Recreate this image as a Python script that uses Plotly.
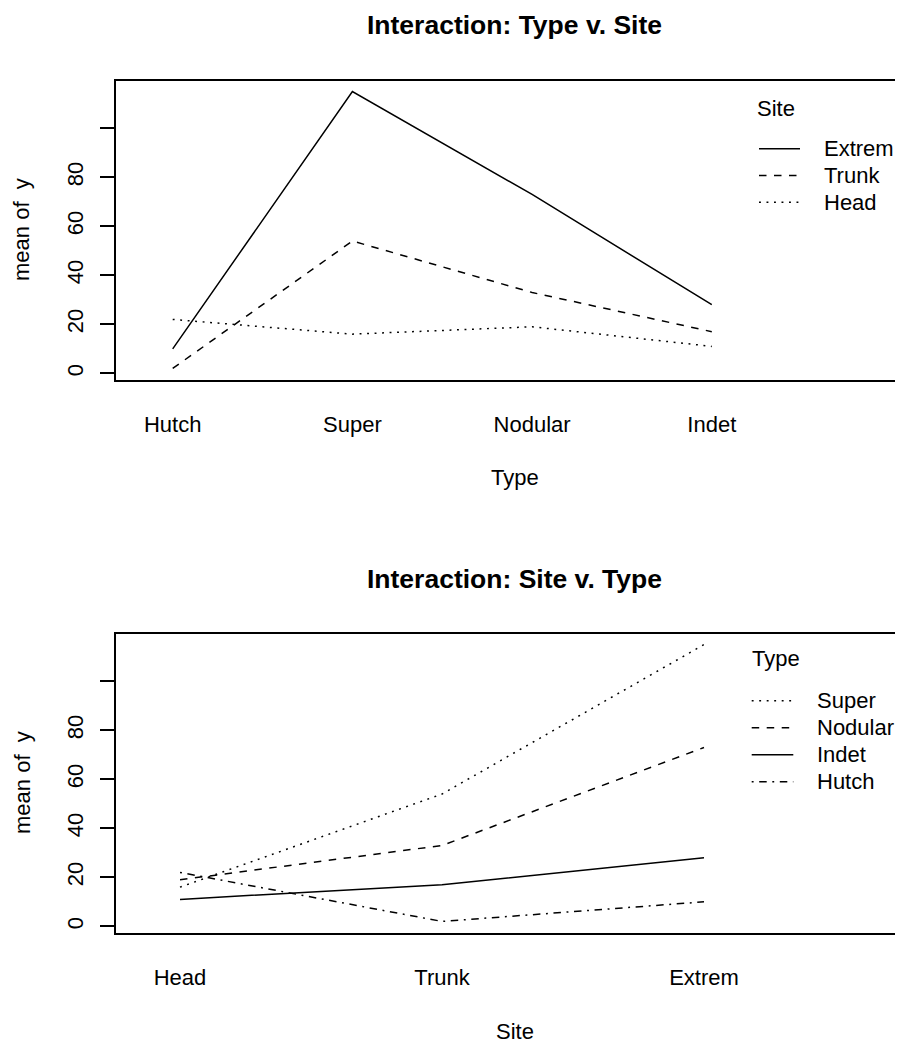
import plotly.graph_objects as go

# ---- data (melanoma counts; mean of y per cell) ----
types = ["Hutch", "Super", "Nodular", "Indet"]
sites = ["Head", "Trunk", "Extrem"]

# Top panel: x = Type, traces = Site
extrem_by_type = [10, 115, 73, 28]
trunk_by_type = [2, 54, 33, 17]
head_by_type = [22, 16, 19, 11]

# Bottom panel: x = Site, traces = Type
super_by_site = [16, 54, 115]
nodular_by_site = [19, 33, 73]
indet_by_site = [11, 17, 28]
hutch_by_site = [22, 2, 10]

y_ticks = [0, 20, 40, 60, 80, 100]
y_tick_text = ["0", "20", "40", "60", "80", ""]

# ---- styling ----
OFF = 8  # default page body margin
W, H = 903 - OFF, 1041 - OFF
FONT = "Liberation Sans, Arial, Helvetica, sans-serif"
FS = 22
LW = 1.5
SOLID = "solid"
DASH = "7.5px,7.5px"
DOT = "1.9px,5.6px"
DOTDASH = "1.9px,5.6px,7.5px,5.6px"


def px(x):
    return (x - OFF) / W


def py(y):
    return 1 - (y - OFF) / H


fig = go.Figure()

top_series = [("Extrem", extrem_by_type, SOLID), ("Trunk", trunk_by_type, DASH), ("Head", head_by_type, DOT)]
bot_series = [("Super", super_by_site, DOT), ("Nodular", nodular_by_site, DASH),
              ("Indet", indet_by_site, SOLID), ("Hutch", hutch_by_site, DOTDASH)]

for name, vals, d in top_series:
    fig.add_trace(go.Scatter(x=types, y=vals, mode="lines", name=name,
                             line=dict(color="black", width=LW, dash=d),
                             xaxis="x", yaxis="y", showlegend=False))
for name, vals, d in bot_series:
    fig.add_trace(go.Scatter(x=sites, y=vals, mode="lines", name=name,
                             line=dict(color="black", width=LW, dash=d),
                             xaxis="x2", yaxis="y2", showlegend=False))

yr = [-2.52, 119.52]
top_px = (80.5, 379.5)
bot_px = (633.5, 932.5)

common_x = dict(type="category", showline=True, mirror=True, linecolor="black", linewidth=LW,
                ticks="", showgrid=False, zeroline=False,
                tickfont=dict(family=FONT, size=FS, color="black"), ticklabelstandoff=24)
common_y = dict(range=yr, showline=True, mirror=False, linecolor="black", linewidth=LW,
                ticks="outside", ticklen=14, tickwidth=LW, tickcolor="black",
                tickvals=y_ticks, ticktext=y_tick_text, tickangle=-90,
                showgrid=False, zeroline=False,
                tickfont=dict(family=FONT, size=FS, color="black"), ticklabelstandoff=8)

fig.update_layout(
    width=W, height=H, margin=dict(l=0, r=0, t=0, b=0),
    paper_bgcolor="white", plot_bgcolor="white", showlegend=False,
    xaxis=dict(common_x, domain=[px(116), 1], range=[-0.3155, 4.064], anchor="y"),
    yaxis=dict(common_y, domain=[py(top_px[1]), py(top_px[0])], anchor="x"),
    xaxis2=dict(common_x, domain=[px(116), 1], range=[-0.2443, 2.7595], anchor="y2"),
    yaxis2=dict(common_y, domain=[py(bot_px[1]), py(bot_px[0])], anchor="x2"),
)

ann = []


def text(x, y, s, size=FS, bold=False, xanchor="center", angle=0):
    ann.append(dict(x=px(x), y=py(y), xref="paper", yref="paper", text=("<b>%s</b>" % s) if bold else s,
                    showarrow=False, xanchor=xanchor, yanchor="middle", textangle=angle,
                    font=dict(family=FONT, size=size, color="black")))


# titles
text(514.5, 25.5, "Interaction: Type v. Site", size=26.5, bold=True)
text(514.5, 578.5, "Interaction: Site v. Type", size=26.5, bold=True)
# axis titles
text(514.5, 478, "Type")
text(514.5, 1031, "Site")
text(22, 230, "mean of\u00a0 y", angle=-90)
text(22, 783, "mean of\u00a0 y", angle=-90)

shapes = []


def seg(x0, x1, y, d):
    shapes.append(dict(type="line", xref="paper", yref="paper", x0=px(x0), x1=px(x1), y0=py(y), y1=py(y),
                       line=dict(color="black", width=LW, dash=d)))


# top legend
text(755, 108, "Site", xanchor="left")
top_rows = [148.8, 175.5, 202.3]
for (name, _, d), yy in zip(top_series, top_rows):
    seg(759, 800, yy, d)
    text(821.7, yy, name, xanchor="left")

# bottom legend
text(750, 658, "Type", xanchor="left")
bot_rows = [700.7, 727.7, 754.7, 781.7]
for (name, _, d), yy in zip(bot_series, bot_rows):
    seg(751.7, 793.3, yy, d)
    text(815, yy, name, xanchor="left")

fig.update_layout(annotations=ann, shapes=shapes)
fig.write_html("out.html")
